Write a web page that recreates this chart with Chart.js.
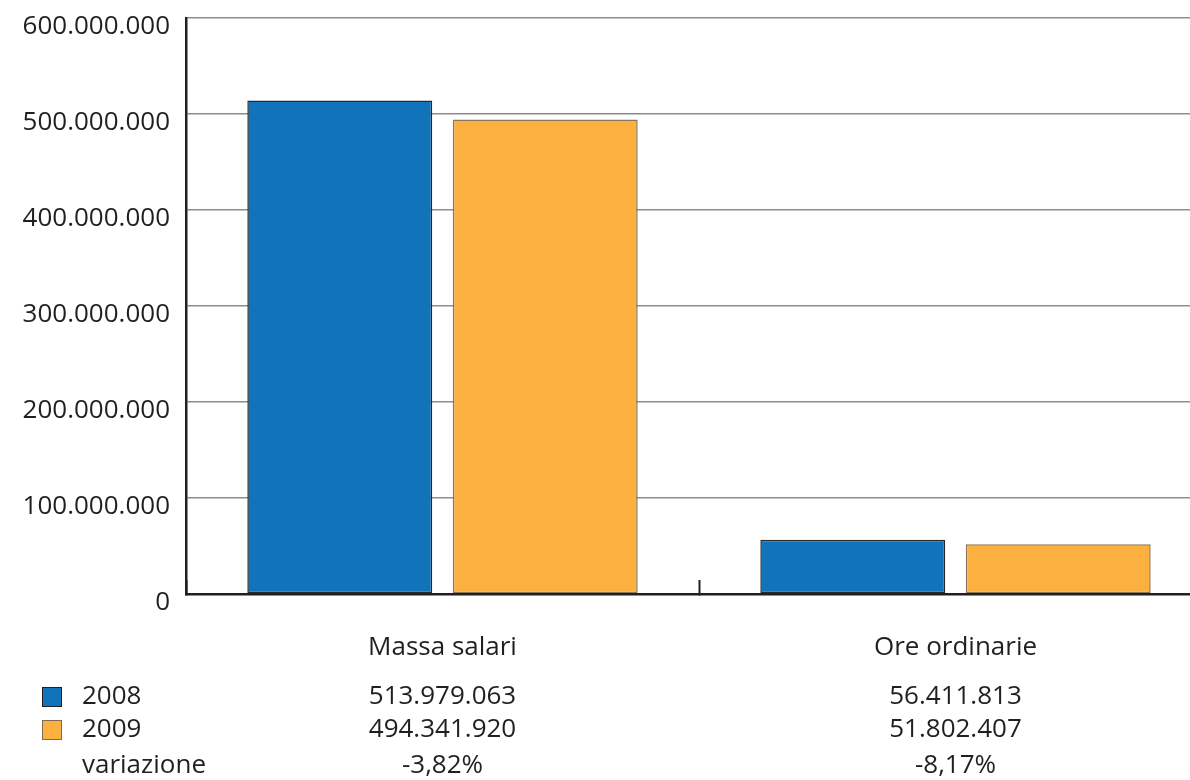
<!DOCTYPE html>
<html>
<head>
<meta charset="utf-8">
<script src="https://cdn.jsdelivr.net/npm/chart.js@4.4.1/dist/chart.umd.min.js"></script>
<style>
	html, body { margin: 0; padding: 0; background: #fff; overflow: hidden; }
	#wrap { position: absolute; left: 0; top: 0; width: 1212px; height: 780px; }
</style>
</head>
<body>
<div id="wrap"><canvas id="chart"></canvas></div>
<script>
const categories = ['Massa salari', 'Ore ordinarie'];
const seriesNames = ['2008', '2009'];
const values2008 = [513979063, 56411813];
const values2009 = [494341920, 51802407];
const variazione = ['-3,82%', '-8,17%'];
const yTicks = [0, 100000000, 200000000, 300000000, 400000000, 500000000, 600000000];

const BLUE = '#1174bb';
const ORANGE = '#fbb040';
const INK = '#231f20';
const FONT = "'Open Sans', 'Noto Sans', sans-serif";

function fmt(n) {
	return String(n).replace(/\B(?=(\d{3})+(?!\d))/g, '.');
}

// table under the chart (legend squares + values per category)
const tablePlugin = {
	id: 'dataTable',
	afterDraw(chart) {
		const ctx = chart.ctx;
		const x = chart.scales.x;
		const rows = [
			{ label: seriesNames[0], color: BLUE, border: INK, cells: values2008.map(fmt), y: 697 },
			{ label: seriesNames[1], color: ORANGE, border: '#7d6b4f', cells: values2009.map(fmt), y: 730 },
			{ label: 'variazione', color: null, cells: variazione, y: 766 },
		];
		ctx.save();
		ctx.font = '26px ' + FONT;
		ctx.fillStyle = INK;
		ctx.textBaseline = 'middle';
		rows.forEach((r) => {
			if (r.color) {
				ctx.fillStyle = r.color;
				ctx.fillRect(42, r.y - 10, 20, 20);
				ctx.strokeStyle = r.border;
				ctx.lineWidth = 1;
				ctx.strokeRect(42.5, r.y - 9.5, 19, 19);
			}
			ctx.fillStyle = INK;
			ctx.textAlign = 'left';
			ctx.fillText(r.label, 82, r.y);
			ctx.textAlign = 'center';
			r.cells.forEach((c, i) => {
				ctx.fillText(c, x.getPixelForValue(i), r.y);
			});
		});
		ctx.restore();
	},
};

new Chart(document.getElementById('chart').getContext('2d'), {
	type: 'bar',
	data: {
		labels: categories,
		datasets: [
			{
				label: seriesNames[0],
				data: values2008,
				backgroundColor: BLUE,
				borderColor: '#2a2a2a',
				borderWidth: 1.5,
				borderSkipped: false,
			},
			{
				label: seriesNames[1],
				data: values2009,
				backgroundColor: ORANGE,
				borderColor: '#8a7658',
				borderWidth: 1.5,
				borderSkipped: false,
			},
		],
	},
	options: {
		responsive: true,
		maintainAspectRatio: false,
		animation: false,
		layout: { padding: { top: 18, right: 0, bottom: 0, left: 0 } },
		categoryPercentage: 0.801,
		barPercentage: 0.9,
		plugins: {
			legend: { display: false },
			tooltip: { enabled: false },
		},
		scales: {
			x: {
				afterFit(scale) { scale.height = 186; },
				grid: {
					drawOnChartArea: false,
					drawTicks: true,
					tickLength: -14,
					tickColor: INK,
					tickWidth: 2,
				},
				border: { color: INK, width: 2.5, z: 1 },
				ticks: {
					color: INK,
					font: { family: FONT, size: 26 },
					padding: 52,
				},
			},
			y: {
				min: 0,
				max: 600000000,
				afterFit(scale) {
					scale.width = 186;
					scale.paddingTop = 0;
					scale.paddingBottom = 0;
				},
				afterBuildTicks(scale) {
					scale.ticks = yTicks.map((v) => ({ value: v }));
				},
				grid: {
					color: '#8c8c8c',
					lineWidth: 1.5,
					drawTicks: false,
				},
				border: { color: INK, width: 2.5 },
				ticks: {
					color: INK,
					font: { family: FONT, size: 26 },
					padding: 16,
					labelOffset: 9,
					callback: (v) => fmt(v),
				},
			},
		},
	},
	plugins: [tablePlugin],
});
</script>
</body>
</html>
